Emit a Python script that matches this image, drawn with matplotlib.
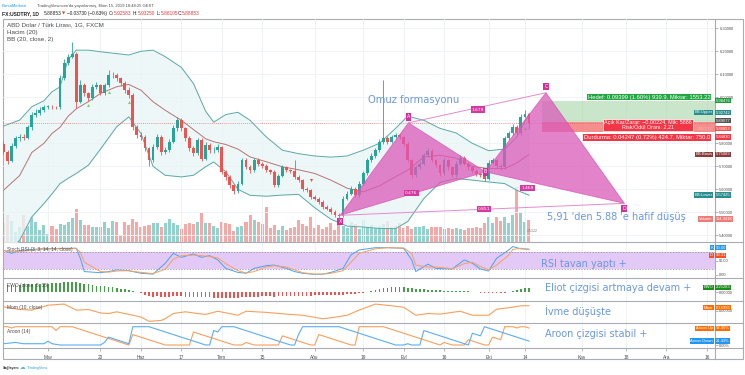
import numpy as np
import pandas as pd
import matplotlib
matplotlib.use("Agg")
import matplotlib.pyplot as plt
from matplotlib.patches import Rectangle, Polygon
from matplotlib.lines import Line2D

W, H = 745, 375

# ---------------- data ----------------
dates = pd.bdate_range("2019-04-16", "2019-12-31")

close = [5.763, 5.724, 5.788, 5.821, 5.828, 5.825, 5.869, 5.923, 5.933, 5.944,
         5.959, 5.959, 5.957, 5.956, 6.082, 6.148, 6.177, 6.188, 5.981, 6.053,
         6.017, 5.995, 6.046, 6.053, 6.017, 6.053, 6.097, 6.097, 6.082, 6.063,
         6.034, 6.010, 5.869, 5.836, 5.828, 5.778, 5.727, 5.785, 5.828, 5.763,
         5.770, 5.807, 5.865, 5.901, 5.865, 5.821, 5.778, 5.756, 5.814, 5.734,
         5.792, 5.770, 5.770, 5.785, 5.676, 5.654, 5.618, 5.593, 5.625, 5.727,
         5.698, 5.683, 5.727, 5.712, 5.700, 5.683, 5.676, 5.618, 5.658, 5.695,
         5.683, 5.680, 5.654, 5.640, 5.603, 5.596, 5.567, 5.560, 5.545, 5.523,
         5.516, 5.502, 5.487, 5.483, 5.560, 5.581, 5.603, 5.574, 5.625, 5.669,
         5.727, 5.744, 5.770, 5.806, 5.825, 5.806, 5.828, 5.835, 5.828, 5.799,
         5.727, 5.661, 5.695, 5.712, 5.748, 5.767, 5.727, 5.705, 5.669, 5.727,
         5.695, 5.661, 5.712, 5.738, 5.712, 5.695, 5.680, 5.666, 5.661, 5.647,
         5.715, 5.727, 5.700, 5.695, 5.821, 5.843, 5.872, 5.843, 5.915, 5.926,
         5.88853]
first_open = 5.799
high = [5.812, 5.772, 5.800, 5.834, 5.842, 5.840, 5.880, 5.936, 5.948, 5.956,
        5.968, 5.966, 5.965, 5.964, 6.095, 6.165, 6.190, 6.242, 6.195, 6.075,
        6.062, 6.025, 6.058, 6.065, 6.060, 6.062, 6.120, 6.110, 6.105, 6.090,
        6.070, 6.045, 6.020, 5.880, 5.850, 5.835, 5.785, 5.795, 5.840, 5.835,
        5.785, 5.818, 5.880, 5.915, 5.910, 5.872, 5.830, 5.788, 5.825, 5.822,
        5.805, 5.800, 5.782, 5.795, 5.790, 5.684, 5.662, 5.625, 5.636, 5.738,
        5.735, 5.705, 5.738, 5.735, 5.720, 5.708, 5.690, 5.682, 5.668, 5.705,
        5.702, 5.690, 5.727, 5.662, 5.646, 5.610, 5.602, 5.574, 5.566, 5.552,
        5.530, 5.522, 5.508, 5.495, 5.570, 5.592, 5.614, 5.610, 5.636, 5.680,
        5.738, 5.756, 5.780, 5.818, 6.075, 5.832, 5.838, 5.846, 5.842, 5.834,
        5.806, 5.734, 5.706, 5.722, 5.758, 5.778, 5.774, 5.734, 5.712, 5.738,
        5.734, 5.702, 5.722, 5.748, 5.745, 5.720, 5.702, 5.688, 5.674, 5.668,
        5.726, 5.738, 5.734, 5.708, 5.832, 5.855, 5.884, 5.880, 5.928, 5.945,
        5.9325]
low = [5.752, 5.712, 5.718, 5.780, 5.812, 5.814, 5.818, 5.860, 5.915, 5.925,
       5.936, 5.950, 5.950, 5.948, 5.950, 6.075, 6.140, 6.170, 5.955, 5.975,
       6.005, 5.985, 5.990, 6.035, 6.008, 6.010, 6.045, 6.085, 6.070, 6.050,
       6.020, 5.995, 5.860, 5.825, 5.815, 5.765, 5.700, 5.720, 5.775, 5.750,
       5.752, 5.762, 5.800, 5.855, 5.855, 5.812, 5.768, 5.745, 5.750, 5.725,
       5.728, 5.760, 5.760, 5.762, 5.665, 5.640, 5.605, 5.580, 5.585, 5.618,
       5.688, 5.672, 5.676, 5.702, 5.692, 5.675, 5.668, 5.608, 5.612, 5.652,
       5.675, 5.672, 5.646, 5.632, 5.594, 5.588, 5.558, 5.552, 5.536, 5.515,
       5.508, 5.494, 5.480, 5.477, 5.478, 5.552, 5.575, 5.566, 5.568, 5.618,
       5.662, 5.720, 5.738, 5.764, 5.798, 5.798, 5.800, 5.822, 5.820, 5.790,
       5.718, 5.650, 5.655, 5.688, 5.705, 5.740, 5.718, 5.696, 5.660, 5.662,
       5.686, 5.652, 5.655, 5.705, 5.704, 5.686, 5.672, 5.658, 5.652, 5.638,
       5.640, 5.708, 5.692, 5.686, 5.690, 5.814, 5.836, 5.836, 5.838, 5.908,
       5.86105]
open_ = [first_open] + close[:-1]
open_[-1] = 5.92583

# volume in thousands
volume = [99, 140, 109, 52, 78, 140, 83, 130, 104, 62,
          88, 42, 83, 68, 94, 88, 104, 125, 172, 114,
          88, 88, 78, 78, 78, 104, 73, 109, 104, 36,
          104, 88, 120, 104, 78, 83, 88, 99, 99, 78,
          99, 120, 99, 88, 68, 94, 99, 94, 104, 151,
          99, 99, 83, 73, 104, 99, 94, 57, 78, 83,
          104, 140, 114, 104, 94, 182, 73, 88, 62, 83,
          62, 73, 78, 114, 94, 83, 130, 73, 88, 68,
          78, 99, 62, 125, 83, 73, 104, 94, 68, 114,
          78, 88, 73, 83, 94, 109, 78, 83, 99, 73,
          83, 68, 78, 78, 83, 68, 78, 78, 78, 68,
          73, 68, 73, 68, 62, 73, 73, 78, 73, 99,
          130, 99, 130, 109, 130, 99, 140, 286, 151, 104,
          114]

# Bollinger (20, close, 2) sampled along the curve
bb_idx = [0, 4, 7, 10, 12, 14, 16, 18, 21, 24, 28, 31, 34, 37, 40, 44, 47, 50, 52, 55,
          58, 61, 65, 69, 73, 77, 81, 85, 89, 93, 97, 100, 104, 108, 112, 116, 120, 124, 127, 130]
bb_upper = [5.875, 5.901, 5.959, 5.985, 6.024, 6.046, 6.165, 6.205, 6.205, 6.198,
            6.190, 6.184, 6.200, 6.205, 6.177, 6.130, 6.060, 5.940, 5.892, 5.925,
            5.935, 5.900, 5.828, 5.770, 5.755, 5.745, 5.740, 5.745, 5.770, 5.800,
            5.865, 5.918, 5.900, 5.865, 5.845, 5.800, 5.768, 5.775, 5.828, 5.92742]
bb_lower = [5.317, 5.378, 5.480, 5.538, 5.580, 5.625, 5.648, 5.669, 5.705, 5.775,
            5.872, 5.915, 5.843, 5.700, 5.661, 5.654, 5.661, 5.698, 5.719, 5.676,
            5.600, 5.574, 5.570, 5.575, 5.578, 5.520, 5.470, 5.440, 5.436, 5.430,
            5.429, 5.460, 5.560, 5.630, 5.647, 5.640, 5.632, 5.625, 5.596, 5.57425]
bb_basis = [5.596, 5.660, 5.760, 5.800, 5.843, 5.870, 5.918, 5.950, 5.981, 6.017,
            6.046, 6.056, 6.031, 5.981, 5.944, 5.900, 5.860, 5.820, 5.807, 5.795,
            5.775, 5.741, 5.720, 5.698, 5.685, 5.669, 5.640, 5.605, 5.589, 5.615,
            5.655, 5.683, 5.741, 5.748, 5.735, 5.700, 5.690, 5.690, 5.715, 5.75083]

# Stoch RSI K / D
k_idx = [0, 2, 4, 9, 15, 18, 19, 20, 24, 26, 28, 31, 34, 37, 40, 42, 44, 47, 49, 51,
         53, 55, 58, 60, 62, 65, 67, 70, 72, 74, 77, 79, 81, 84, 86, 88, 92, 95, 99, 101,
         102, 105, 107, 111, 114, 116, 118, 120, 122, 125, 126, 128, 130]
stoch_k = [88, 76, 86, 92, 94, 94, 59, 12, 8, 12, 18, 15, 6, 3, 41, 76, 62, 74, 62, 68,
           53, 23, 9, 6, 23, 33, 35, 23, 12, 6, 2, 3, 9, 23, 71, 88, 96, 96, 94, 53,
           12, 38, 23, 21, 53, 41, 21, 14, 59, 88, 100, 92, 90.60]
stoch_d = [85, 82, 82, 90, 93, 94, 80, 45, 12, 10, 14, 15, 9, 5, 20, 55, 68, 70, 68, 65,
           60, 40, 15, 7, 12, 28, 33, 28, 18, 8, 3, 3, 6, 15, 45, 76, 92, 96, 95, 75,
           35, 28, 28, 22, 40, 45, 30, 18, 35, 70, 90, 94, 90.31]

# EWO (close, 5, 35), one value per bar
ewo = [3.3, 3.4, 3.5, 3.6, 3.8, 3.9, 4.0, 4.0, 4.1, 4.1,
       4.2, 4.3, 4.4, 4.5, 4.6, 4.9, 5.2, 5.1, 4.9, 4.5,
       4.1, 3.9, 3.6, 3.2, 2.9, 2.9, 2.8, 2.5, 2.1, 1.8,
       1.5, 1.1, 0.8, 0.3, -0.3, -1.5, -2.0, -2.1, -2.0, -2.2,
       -2.3, -2.2, -2.0, -1.8, -1.9, -2.1, -2.3, -2.4, -2.3, -2.4,
       -2.3, -2.5, -2.6, -2.7, -2.9, -2.9, -2.8, -2.8, -2.6, -2.4,
       -2.3, -2.3, -2.2, -2.1, -2.0, -2.0, -2.0, -2.1, -1.9, -1.8,
       -1.8, -1.8, -1.7, -1.7, -1.6, -1.6, -1.6, -1.5, -1.5, -1.5,
       -1.4, -1.4, -1.3, -1.3, -1.2, -1.0, -0.8, -0.7, -0.4, -0.2,
       0.3, 0.7, 1.1, 1.6, 2.0, 2.2, 2.4, 2.5, 2.6, 2.5,
       2.3, 2.0, 1.8, 1.6, 1.5, 1.3, 1.1, 1.0, 0.9, 0.8,
       0.8, 0.7, 0.6, 0.5, 0.5, 0.4, 0.3, 0.2, -0.1, -0.3,
       -0.4, -0.5, -0.5, -0.4, -0.2, 0.3, 0.8, 1.2, 1.6, 2.0,
       2.25283]

# Momentum (10)
mom_idx = [0, 4, 7, 11, 15, 16, 18, 21, 24, 26, 28, 30, 34, 36, 39, 40, 42, 45, 48, 50,
           53, 58, 60, 65, 70, 74, 79, 81, 85, 88, 92, 96, 99, 102, 105, 108, 113, 116, 120, 122,
           126, 128, 130]
mom = [0.134, 0.04, 0.018, 0.19, 0.23, 0.16, 0.018, 0.04, -0.08, -0.1,
       -0.04, -0.1, -0.22, -0.37, -0.34, -0.28, -0.1, -0.04, -0.1, -0.13,
       -0.02, -0.16, -0.02, -0.06, -0.12, -0.16, -0.28, -0.25, -0.16, 0.02,
       0.23, 0.17, 0.12, -0.16, -0.1, -0.12, -0.02, -0.16, -0.16, 0.05,
       0.12, 0.17, 0.16955]

# Aroon (14) break points
up_idx = [0, 1, 2, 3, 12, 13, 14, 17, 31, 32, 40, 46, 47, 57, 59, 60, 61, 62, 68, 69,
          76, 77, 78, 86, 87, 88, 94, 108, 109, 111, 114, 115, 119, 120, 121, 123, 124, 126,
          127, 128, 129, 130]
aroon_up = [100, 100, 93, 100, 100, 79, 100, 100, 0, 57, 0, 0, 71, 0, 0, 14, 7, 0, 0, 50,
            0, 0, 57, 0, 0, 100, 100, 0, 14, 0, 0, 29, 0, 0, 43, 29, 100, 100,
            93, 100, 100, 92.86]
dn_idx = [0, 3, 5, 10, 11, 12, 14, 24, 25, 26, 31, 32, 36, 50, 51, 52, 53, 54, 57, 71,
          72, 73, 74, 83, 97, 99, 100, 101, 103, 104, 115, 116, 118, 119, 130]
aroon_dn = [7, 14, 7, 7, 21, 7, 0, 0, 14, 43, 7, 100, 100, 0, 0, 79, 71, 100, 100, 0,
            0, 57, 100, 100, 0, 0, 7, 0, 0, 79, 0, 64, 50, 100, 21.43]

# harmonic pattern points X A B C D and ratio labels
pat_idx = [83.3, 100.2, 119.2, 134.2, 153.6]
pat_price = [5.487, 5.889, 5.676, 6.020, 5.539]
pat_names = ["X", "A", "B", "C", "D"]
ratio_idx = [117.4, 100.9, 129.6, 118.9]
ratio_price = [5.947, 5.583, 5.605, 5.513]
ratio_text = ["1.679", "0.476", "1.469", "0.851"]

# long position tool
pos_start = 133.2
entry, target, stop = 5.89077, 5.98476, 5.84830

sig_up_idx = [21, 26, 31, 129]
sig_up_price = [5.966, 6.023, 5.979, 5.866]
sig_dn_idx = [76]
sig_dn_price = [5.640]

date_ticks = [("2019-05-01", "May"), ("2019-05-20", "20"), ("2019-06-03", "Haz"),
              ("2019-06-17", "17"), ("2019-07-01", "Tem"), ("2019-07-15", "15"),
              ("2019-08-01", "Ağu"), ("2019-08-19", "19"), ("2019-09-02", "Eyl"),
              ("2019-09-16", "16"), ("2019-10-01", "Eki"), ("2019-10-14", "14"),
              ("2019-11-01", "Kas"), ("2019-11-18", "18"), ("2019-12-02", "Ara"),
              ("2019-12-16", "16")]
price_ticks = [5.4, 5.5, 5.6, 5.7, 5.8, 5.9, 6.0, 6.1, 6.2, 6.3]

# ---------------- styling ----------------
UP, DN = "#26a69a", "#ef5350"
GRID = "#eef1f6"
TXT = "#4a4a4a"
NOTE = "#6a97e6"
PINK = "#da5ab9"
HF = "Liberation Sans"
plt.rcParams["font.family"] = ["DejaVu Sans"]

fig = plt.figure(figsize=(W / 100, H / 100), dpi=100)


def rect(l, t, r, b):
    return [l / W, 1 - b / H, (r - l) / W, (b - t) / H]


def fy(y):
    return 1 - y / H


XL = (-0.12, 175.9)
x = np.arange(len(close))
tick_pos = [dates.get_loc(pd.Timestamp(d)) for d, _ in date_ticks]
tick_lab = [lab for _, lab in date_ticks]


def base(ax, ylim):
    ax.set_xlim(*XL)
    ax.set_ylim(*ylim)
    for s in ax.spines.values():
        s.set_visible(False)
    ax.set_xticks(tick_pos)
    ax.set_xticklabels([])
    ax.tick_params(axis="x", length=0)
    ax.yaxis.tick_right()
    ax.tick_params(axis="y", length=2, width=0.5, color="#999", labelsize=2.9,
                   labelcolor=TXT, pad=1.5)
    for t in tick_pos:
        ax.axvline(t, color=GRID, lw=0.6, zorder=0)


# ---------------- main pane ----------------
axv = fig.add_axes(rect(3, 19, 714.5, 242.3))
axv.set_xlim(*XL)
axv.set_ylim(0, 1160)
axv.axis("off")

ax = fig.add_axes(rect(3, 19, 714.5, 242.3))
base(ax, (5.3697, 6.3405))
ax.set_zorder(2)
ax.patch.set_alpha(0)
ax.set_yticks(price_ticks)
# 5.90000 sits under the position tags on the scale
ax.set_yticklabels(["" if p == 5.9 else "%.5f" % p for p in price_ticks], family=HF)
for p in price_ticks:
    ax.axhline(p, color=GRID, lw=0.6, zorder=0)

for t in tick_pos:
    axv.axvline(t, color=GRID, lw=0.6, zorder=0)

o = np.array(open_)
c = np.array(close)
up = c >= o
cols = np.where(up, UP, DN)
axv.bar(x, volume, width=0.75, color=cols, alpha=0.5, linewidth=0)

ax.fill_between(bb_idx, bb_lower, bb_upper, color="#e9f5f5", alpha=0.8, lw=0, zorder=1)
ax.plot(bb_idx, bb_upper, color="#5aa8a8", lw=0.7, zorder=2)
ax.plot(bb_idx, bb_lower, color="#5aa8a8", lw=0.7, zorder=2)
ax.plot(bb_idx, bb_basis, color="#b97474", lw=0.7, zorder=2)

ax.vlines(x, low, high, colors=cols, lw=0.6, zorder=3)
ax.bar(x, np.maximum(np.abs(c - o), 0.0015), bottom=np.minimum(o, c), width=0.7,
       color=cols, linewidth=0, zorder=4)

ax.scatter(sig_up_idx, sig_up_price, marker="^", s=5, color="#7bd36b", zorder=5, lw=0)
ax.scatter(sig_dn_idx, sig_dn_price, marker="v", s=5, color="#ef5350", zorder=5, lw=0)

# last price line
ax.axhline(close[-1], color=DN, lw=0.6, ls=(0, (1, 1.5)), alpha=0.8, zorder=3)

# position boxes
ax.add_patch(Rectangle((pos_start, entry), XL[1] - pos_start, target - entry,
                       fc="#a5d6a7", alpha=0.6, lw=0, zorder=5))
ax.add_patch(Rectangle((pos_start, stop), XL[1] - pos_start, entry - stop,
                       fc="#ef5350", alpha=0.65, lw=0, zorder=5))

# harmonic pattern
P = list(zip(pat_idx, pat_price))
for tri in ([P[0], P[1], P[2]], [P[2], P[3], P[4]]):
    ax.add_patch(Polygon(tri, closed=True, fc=PINK, alpha=0.75, ec="#d64fb0", lw=0.6,
                         zorder=6))
ax.plot([P[1][0], P[3][0]], [P[1][1], P[3][1]], color="#e48ad0", lw=0.7, zorder=6)
ax.plot([P[0][0], P[4][0]], [P[0][1], P[4][1]], color="#e48ad0", lw=0.7, zorder=6)
offs = [-6, 6, 0, 6, -5]
for (px, pp), name, dy in zip(P, pat_names, offs):
    ax.annotate(name, (px, pp), xytext=(0, dy * 0.72), textcoords="offset points",
                ha="center", va="center", fontsize=3.4, color="white", zorder=8,
                bbox=dict(boxstyle="square,pad=0.25", fc="#d42f9b", ec="none"))
for ri, rp, rt in zip(ratio_idx, ratio_price, ratio_text):
    ax.text(ri, rp, rt, ha="center", va="center", fontsize=3.2, color="white", zorder=8,
            bbox=dict(boxstyle="square,pad=0.25", fc="#d63aa0", ec="none"))

ax.text(90.2, 5.990, "Omuz formasyonu", fontsize=7.2, color=NOTE, va="center", zorder=9)

# pane legends
for s, yy in (("ABD Dolar / Türk Lirası, 1G, FXCM", 25), ("Hacim (20)", 32.3),
              ("BB (20, close, 2)", 39.6)):
    fig.text(7 / W, fy(yy), s, fontsize=4.5, color=TXT, va="center", family=HF)

# ---------------- Stoch RSI ----------------
ax1 = fig.add_axes(rect(3, 242.3, 714.5, 278.3))
base(ax1, (-11.7, 115))
ax1.axhspan(20, 80, color="#e3c9f6", lw=0, zorder=0)
ax1.axhline(80, color="#8d84a0", lw=0.5, ls=(0, (2, 2)))
ax1.axhline(20, color="#8d84a0", lw=0.5, ls=(0, (2, 2)))
ax1.plot(k_idx, stoch_k, color="#4aa3f0", lw=0.7)
ax1.plot(k_idx, stoch_d, color="#f7a05c", lw=0.7)
ax1.set_yticks([0, 50])
ax1.set_yticklabels(["0.00", "50.00"], family=HF)

# ---------------- EWO ----------------
ax2 = fig.add_axes(rect(3, 278.3, 714.5, 301))
base(ax2, (-4.26, 6.86))
ew = np.array(ewo)
ax2.bar(x, ew, width=0.42, color=np.where(ew >= 0, "#43a047", "#ef5350"), linewidth=0)
ax2.set_yticks([0])
ax2.set_yticklabels(["0.00000"], family=HF)

# ---------------- Momentum ----------------
ax3 = fig.add_axes(rect(3, 301, 714.5, 323.3))
base(ax3, (-0.44, 0.336))
ax3.plot(mom_idx, mom, color="#f7a05c", lw=0.8)
ax3.set_yticks([0])
ax3.set_yticklabels(["0.00000"], family=HF)

# ---------------- Aroon ----------------
ax4 = fig.add_axes(rect(3, 323.3, 714.5, 348.3))
base(ax4, (-18, 118.6))
ax4.plot(up_idx, aroon_up, color="#f7a05c", lw=0.8)
ax4.plot(dn_idx, aroon_dn, color="#5aaef5", lw=0.8)
ax4.set_yticks([0])
ax4.set_yticklabels(["0.00%"], family=HF)
ax4.set_xticklabels(tick_lab, family=HF)
ax4.tick_params(axis="x", length=2, width=0.5, color="#999", labelsize=3.4,
                labelcolor=TXT, pad=2.5)

for lab, y in (("Stoch RSI (3, 3, 14, 14, close)", 250), ("EWO (close, 5, 35)", 286),
               ("Mom (10, close)", 308), ("Aroon (14)", 331)):
    fig.text(7 / W, fy(y), lab, fontsize=3.5, color=TXT, va="center", family=HF)

# notes on the right
notes = [("5,91 'den 5.88 'e hafif düşüş", 547, 217), ("RSI tavan yaptı +", 541, 264),
         ("Eliot çizgisi artmaya devam +", 545, 288), ("İvme düşüşte", 545, 311.5),
         ("Aroon çizgisi stabil +", 545, 334)]
for s, nx, ny in notes:
    fig.text(nx / W, fy(ny), s, fontsize=7.0, color=NOTE, va="center", zorder=10)


# ---------------- labels on price scale ----------------
def tag(y, text, fc, x=715.5, ha="left", fs=3.0, color="white"):
    fig.text(x / W, fy(y), text, fontsize=fs, color=color, ha=ha, va="center",
             family=HF, zorder=20,
             bbox=dict(boxstyle="square,pad=0.15", fc=fc, ec="none"))


tag(100.7, "5.98476", "#1f9c3a")
tag(112.5, "BB:Upper", "#2a8d8d", x=712.5, ha="right")
tag(112.5, "5.92742", "#2a8d8d")
tag(120.6, "5.89077", "#555555")
tag(128.8, "5.88853", DN)
tag(137.0, "5.84830", "#f23645")
tag(154.4, "BB:Basis", "#8c3b3b", x=712.5, ha="right")
tag(154.4, "5.75083", "#8c3b3b")
tag(194.9, "BB:Lower", "#2a8d8d", x=712.5, ha="right")
tag(194.9, "5.57425", "#2a8d8d")
tag(219, "Volume", "#f07a78", x=712.5, ha="right")
tag(219, "114.341K", "#f07a78")
fig.text(712.5 / W, fy(129.2), "USDTRY", fontsize=2.8, color="#f3b0b0", ha="right",
         va="center", family=HF, zorder=19)

tag(97, "Hedef: 0.09399 (1.60%) 939.9, Miktar: 1553.22", "#21a642", x=710.5, ha="right",
    fs=4.2)
tag(137.2, "Durdurma: 0.04247 (0.72%) 424.7, Miktar: 750.0", "#f23645", x=710.5,
    ha="right", fs=4.2)
fig.text(648 / W, fy(124.6), "Açık Kar/Zarar: \u22120.00224, Mik: 5886\nRisk/Ödül Oranı: 2.21",
         fontsize=3.9, color="white", ha="center", va="center", linespacing=0.95,
         family=HF, zorder=21,
         bbox=dict(boxstyle="square,pad=0.2", fc="#f23645", ec="white", lw=0.5))

tag(247.7, "K", "#2196f3", x=713, ha="right")
tag(247.7, "90.60", "#2196f3")
tag(255.3, "D", "#f4511e", x=713, ha="right")
tag(255.3, "90.31", "#f4511e")
tag(287.5, "EWO", "#1b8e1b", x=713, ha="right")
tag(287.5, "2.25283", "#1b8e1b")
tag(307.7, "Mom", "#ff6d00", x=713, ha="right")
tag(307.7, "0.16955", "#ff6d00")
tag(328.3, "Aroon Up", "#ff6d00", x=713, ha="right")
tag(328.3, "92.86%", "#ff6d00")
tag(341, "Aroon Down", "#2196f3", x=713, ha="right")
tag(341, "21.43%", "#2196f3")

fig.text(527 / W, fy(231.5), "2.5122", fontsize=2.6, color="#777", va="center", family=HF)

# ---------------- frame and separators ----------------
L, R, T, B = 3, 742.5, 19, 358.5
fig.add_artist(Rectangle((L / W, fy(B)), (R - L) / W, (B - T) / H, fill=False,
                         ec="#a9acb3", lw=0.8, transform=fig.transFigure))
fig.add_artist(Line2D([714.5 / W] * 2, [fy(T), fy(B)], color="#a9acb3", lw=0.8))
for yy in (242.3, 278.3, 301, 323.3, 348.3):
    fig.add_artist(Line2D([L / W, R / W], [fy(yy)] * 2, color="#a9acb3", lw=0.8))

# ---------------- header ----------------
fig.text(2 / W, fy(6), "BorsaMerkezi", fontsize=3.0, color="#2196f3", va="center", family=HF)
fig.text(37 / W, fy(6), "TradingView.com'da yayınlanmış, Ekim 15, 2019 18:48:25 GEST",
         fontsize=3.0, color=TXT, va="center", family=HF)
y2 = fy(13.7)
fig.text(2 / W, y2, "FX:USDTRY, 1D", fontsize=3.6, color="#222", va="center",
         family=HF, weight="bold")
fig.text(44 / W, y2, "5.88853", fontsize=3.4, color="#222", va="center", family=HF)
fig.text(61.5 / W, y2, "\u25bc", fontsize=3.0, color="#e53935", va="center",
         family="DejaVu Sans")
fig.text(67 / W, y2, "\u22120.03730 (\u22120.63%)", fontsize=3.4, color="#222",
         va="center", family=HF)
for lab, val, px in (("O:", "5.92583", 109), ("H:", "5.93250", 133),
                     ("L:", "5.86105", 156.5), ("C:", "5.88853", 177.5)):
    fig.text(px / W, y2, lab, fontsize=3.4, color="#222", va="center", family=HF)
    fig.text((px + 4.5) / W, y2, val, fontsize=3.4, color="#e53935", va="center", family=HF)

fig.text(3 / W, fy(367.5), "Sağlayan:", fontsize=2.6, color="#333", va="center",
         family=HF, weight="bold")
fig.text(19.5 / W, fy(367.5), "\u2601", fontsize=4.0, color="#58b5e8", va="center",
         family="DejaVu Sans")
fig.text(26.5 / W, fy(367.5), "TradingView", fontsize=2.8, color="#3aa0e0", va="center",
         family=HF)

fig.savefig("out.png", dpi=100)
